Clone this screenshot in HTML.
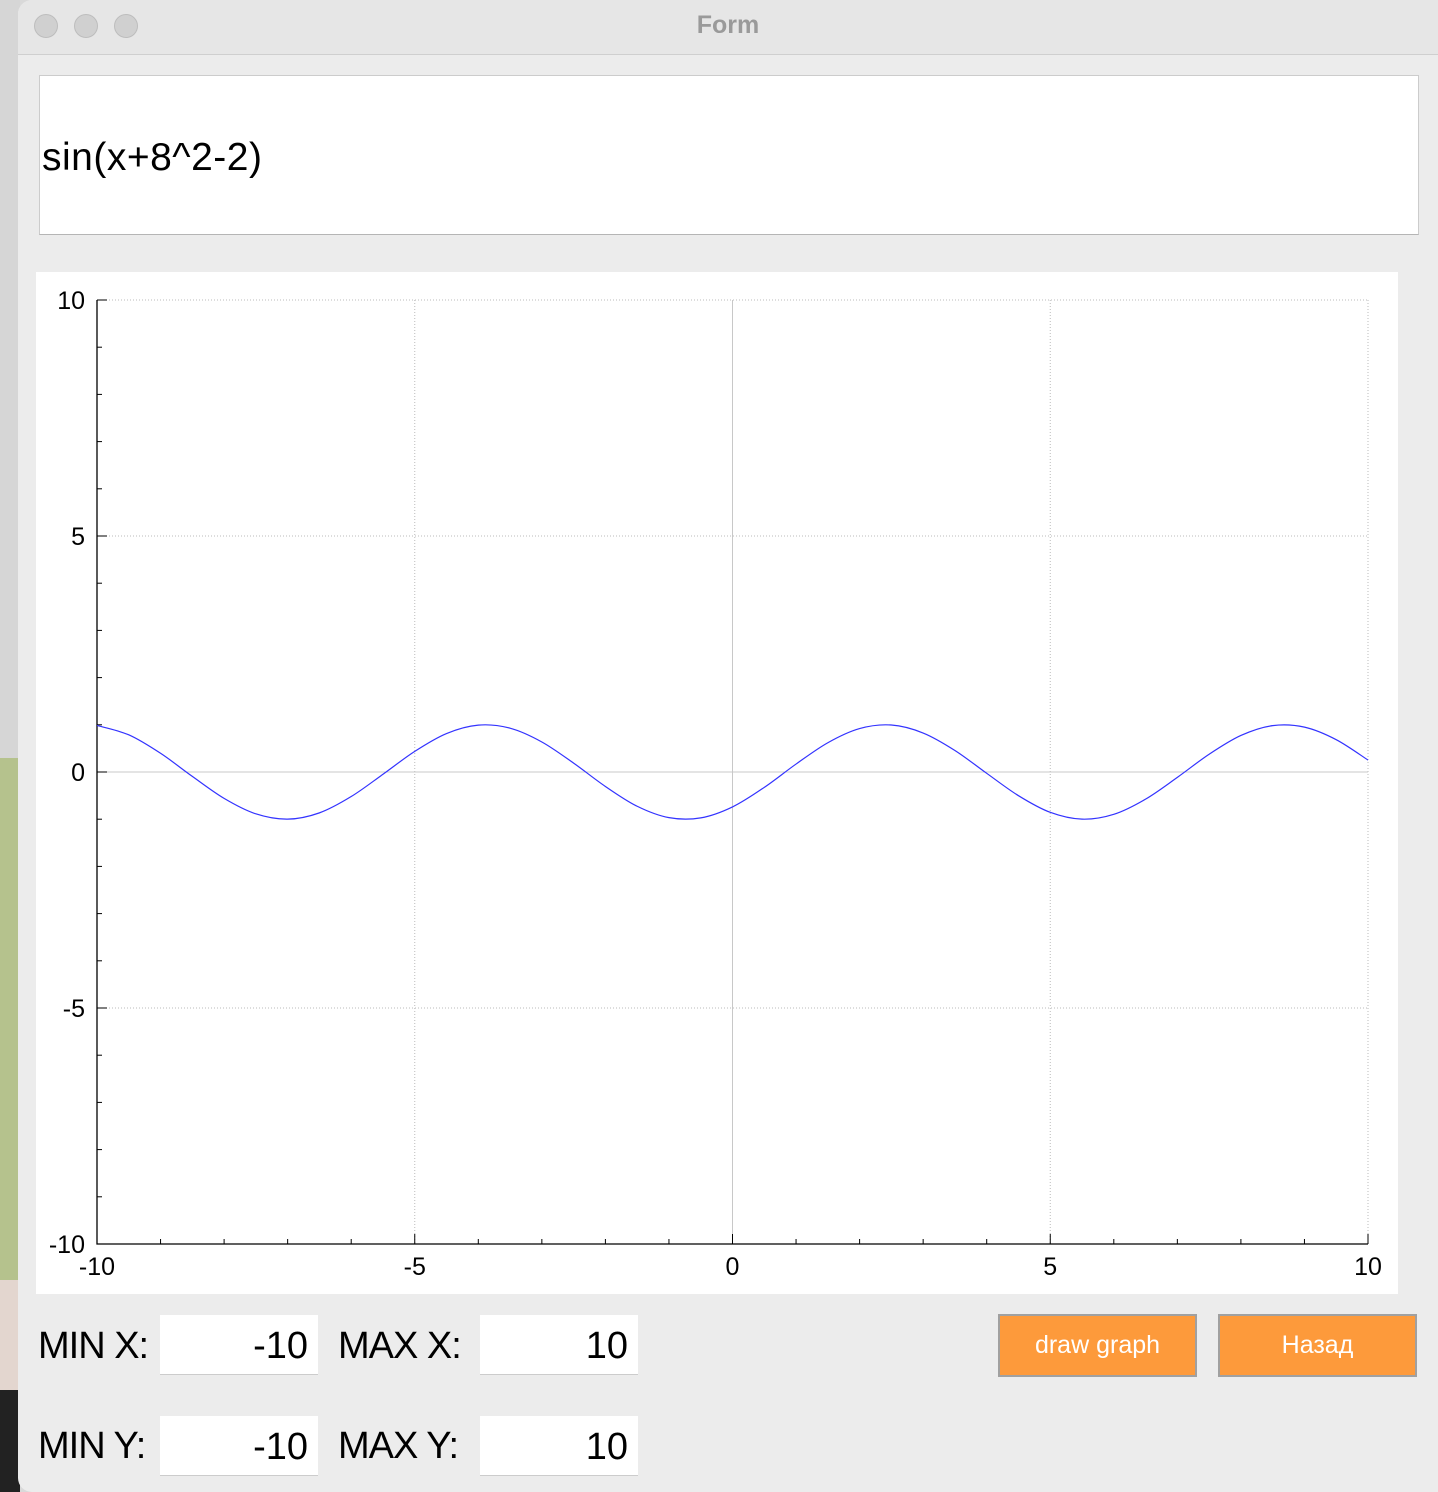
<!DOCTYPE html>
<html><head><meta charset="utf-8"><style>
body{margin:0;width:1438px;height:1492px;overflow:hidden;background:#d9d9d9;font-family:"Liberation Sans",sans-serif;position:relative}
.abs{position:absolute}
.lbl{letter-spacing:-1px}
</style></head><body>
<div class="abs" style="left:0;top:0;width:20px;height:758px;background:#d6d6d6"></div>
<div class="abs" style="left:0;top:758px;width:20px;height:522px;background:#b5c28d"></div>
<div class="abs" style="left:0;top:1280px;width:20px;height:110px;background:#e3d6cf"></div>
<div class="abs" style="left:0;top:1390px;width:20px;height:102px;background:#222"></div>
<div class="abs" style="left:18px;top:0;width:1420px;height:1492px;background:#ececec;border-radius:14px 0 0 14px;overflow:hidden">
  <div class="abs" style="left:0;top:0;width:1420px;height:54px;background:#e6e6e6;border-bottom:1px solid #cfcfcf">
    <div class="abs" style="left:16px;top:14px;width:22px;height:22px;border-radius:50%;background:#d0d0d0;border:1px solid #bdbdbd"></div>
    <div class="abs" style="left:56px;top:14px;width:22px;height:22px;border-radius:50%;background:#d0d0d0;border:1px solid #bdbdbd"></div>
    <div class="abs" style="left:96px;top:14px;width:22px;height:22px;border-radius:50%;background:#d0d0d0;border:1px solid #bdbdbd"></div>
    <div class="abs" style="left:0;width:1420px;top:11px;text-align:center;font-size:25px;font-weight:bold;color:#9a9a9a">Form</div>
  </div>
  <div class="abs" style="left:21px;top:75px;width:1378px;height:158px;background:#fff;border:1px solid #ccc;border-bottom-color:#b5b5b5">
    <div class="abs" style="left:2px;top:60px;font-size:39px;letter-spacing:0.5px;color:#000">sin(x+8^2-2)</div>
  </div>
</div>
<svg class="abs" style="left:36px;top:272px" width="1362" height="1022" id="plot"></svg>
<div class="abs lbl" style="left:38px;top:1325px;font-size:38px">MIN X:</div>
<div class="abs" style="left:160px;top:1315px;width:158px;height:60px;background:#fff;border-bottom:1px solid #ccc;font-size:38px;text-align:right;box-sizing:border-box;padding:10px 10px 0 0">-10</div>
<div class="abs lbl" style="left:338px;top:1325px;font-size:38px">MAX X:</div>
<div class="abs" style="left:480px;top:1315px;width:158px;height:60px;background:#fff;border-bottom:1px solid #ccc;font-size:38px;text-align:right;box-sizing:border-box;padding:10px 10px 0 0">10</div>
<div class="abs lbl" style="left:38px;top:1425px;font-size:38px">MIN Y:</div>
<div class="abs" style="left:160px;top:1416px;width:158px;height:60px;background:#fff;border-bottom:1px solid #ccc;font-size:38px;text-align:right;box-sizing:border-box;padding:10px 10px 0 0">-10</div>
<div class="abs lbl" style="left:338px;top:1425px;font-size:38px">MAX Y:</div>
<div class="abs" style="left:480px;top:1416px;width:158px;height:60px;background:#fff;border-bottom:1px solid #ccc;font-size:38px;text-align:right;box-sizing:border-box;padding:10px 10px 0 0">10</div>
<div class="abs" style="left:998px;top:1314px;width:199px;height:63px;background:#fd9a3b;border:2px solid #a0a0a0;box-sizing:border-box;color:#fff;font-size:25px;text-align:center;line-height:59px">draw graph</div>
<div class="abs" style="left:1218px;top:1314px;width:199px;height:63px;background:#fd9a3b;border:2px solid #a0a0a0;box-sizing:border-box;color:#fff;font-size:25px;text-align:center;line-height:59px">Назад</div>
<script>
const xTicks=[-10,-5,0,5,10];
const yTicks=[-10,-5,0,5,10];
const xValues=[-10,-9.5,-9,-8.5,-8,-7.5,-7,-6.5,-6,-5.5,-5,-4.5,-4,-3.5,-3,-2.5,-2,-1.5,-1,-0.5,0,0.5,1,1.5,2,2.5,3,3.5,4,4.5,5,5.5,6,6.5,7,7.5,8,8.5,9,9.5,10];
const yValues=[0.986,0.787,0.396,-0.093,-0.559,-0.887,-0.999,-0.866,-0.520,-0.048,0.437,0.815,0.993,0.928,0.636,0.188,-0.306,-0.726,-0.967,-0.972,-0.740,-0.326,0.168,0.620,0.920,0.995,0.826,0.456,-0.028,-0.502,-0.855,-0.999,-0.897,-0.575,-0.114,0.376,0.774,0.983,0.951,0.685,0.253];
const svg=document.getElementById('plot');
const NS='http://www.w3.org/2000/svg';
const L=61,R=1332,T=28,B=972;
const sx=v=>L+(v+10)/20*(R-L);
const sy=v=>B-(v+10)/20*(B-T);
function mk(t,a){const e=document.createElementNS(NS,t);for(const k in a)e.setAttribute(k,a[k]);svg.appendChild(e);return e;}
let r=mk('rect',{x:0,y:0,width:1362,height:1022,fill:'#fff'});


xTicks.forEach(v=>{if(v===0)return;const l=mk('line',{x1:sx(v),x2:sx(v),y1:T,y2:B,stroke:'#bbb','stroke-dasharray':'1,2','stroke-width':1});

});
yTicks.forEach(v=>{if(v===0)return;const l=mk('line',{x1:L,x2:R,y1:sy(v),y2:sy(v),stroke:'#bbb','stroke-dasharray':'1,2','stroke-width':1});

});
let z1=mk('line',{x1:sx(0),x2:sx(0),y1:T,y2:B,stroke:'#c8c8c8','stroke-width':1});


let z2=mk('line',{x1:L,x2:R,y1:sy(0),y2:sy(0),stroke:'#c8c8c8','stroke-width':1});


let ax=mk('path',{d:`M${L},${T}V${B}H${R}`,fill:'none',stroke:'#000','stroke-width':1.3});


for(let v=-10;v<=10;v++){const maj=v%5===0;
const t1=mk('line',{x1:L,x2:L+(maj?10:5),y1:sy(v),y2:sy(v),stroke:'#000'});


const t2=mk('line',{x1:sx(v),x2:sx(v),y1:B,y2:B-(maj?10:5),stroke:'#000'});

}
yTicks.forEach(v=>{const t=mk('text',{x:L-12,y:sy(v)+9,'text-anchor':'end','font-size':25,'font-family':'Liberation Sans, sans-serif'});t.textContent=v;

});
xTicks.forEach(v=>{const t=mk('text',{x:sx(v),y:B+31,'text-anchor':'middle','font-size':25,'font-family':'Liberation Sans, sans-serif'});t.textContent=v;

});
const P=xValues.map((x,i)=>[sx(x),sy(yValues[i])]);
let d=`M${P[0][0]},${P[0][1]}`;
for(let i=0;i<P.length-1;i++){const p0=P[Math.max(0,i-1)],p1=P[i],p2=P[i+1],p3=P[Math.min(P.length-1,i+2)];
d+=`C${p1[0]+(p2[0]-p0[0])/6},${p1[1]+(p2[1]-p0[1])/6} ${p2[0]-(p3[0]-p1[0])/6},${p2[1]-(p3[1]-p1[1])/6} ${p2[0]},${p2[1]}`;}
const c=mk('path',{d,fill:'none',stroke:'#3333ff','stroke-width':1.2});


</script>
</body></html>
